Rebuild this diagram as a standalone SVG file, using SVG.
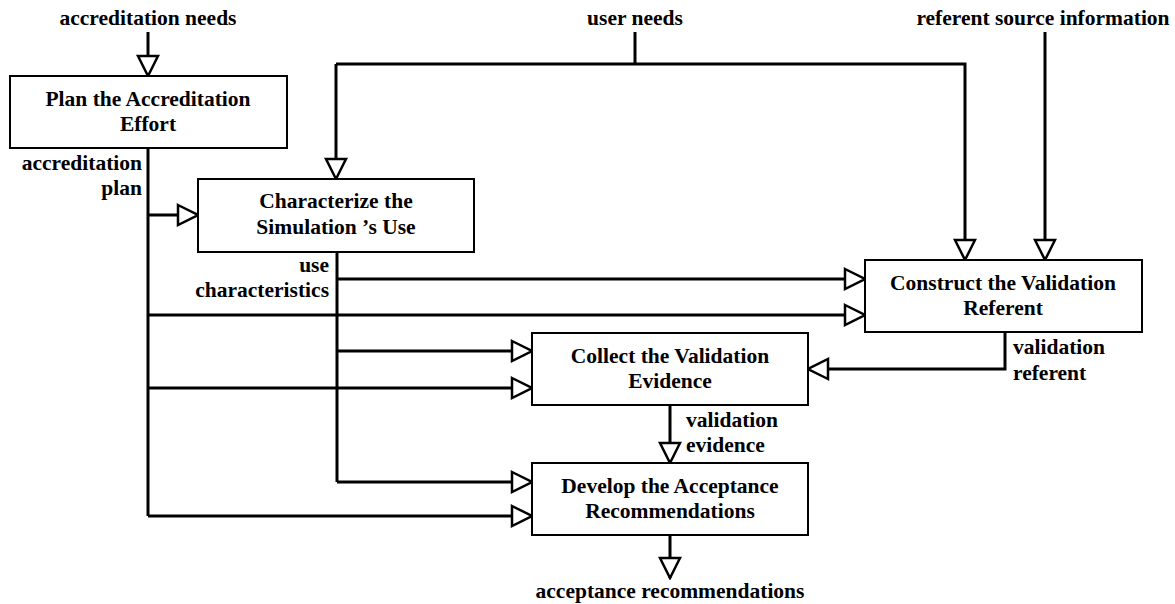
<svg xmlns="http://www.w3.org/2000/svg" width="1175" height="604" viewBox="0 0 1175 604">
<style>
.box{fill:#fff;stroke:#000;stroke-width:2}
text{font-family:'Liberation Serif','DejaVu Serif','Times New Roman',serif;font-weight:bold;font-size:21.5px;fill:#000}
.m{text-anchor:middle}
.e{text-anchor:end}
.c{fill:none;stroke:#000;stroke-width:3;stroke-linejoin:miter}
.a{marker-end:url(#ah)}
</style>
<defs>
<marker id="ah" viewBox="0 0 24 24" refX="22" refY="12" markerWidth="24" markerHeight="24" markerUnits="userSpaceOnUse" orient="auto">
<path d="M2,2 L22,12 L2,22 Z" fill="#fff" stroke="#000" stroke-width="2.5"/>
</marker>
</defs>
<rect width="1175" height="604" fill="#fff"/>
<g id="connectors">
<path class="c a" d="M148,32 V76"/>
<path class="c" d="M635,32 V64"/>
<path class="c a" d="M336,64 V179"/>
<path class="c a" d="M336,64 H965 V260"/>
<path class="c a" d="M1045,32 V260"/>
<path class="c" d="M148,148 V516"/>
<path class="c a" d="M148,215 H198"/>
<path class="c a" d="M148,315 H865"/>
<path class="c a" d="M148,388 H532"/>
<path class="c a" d="M148,516 H532"/>
<path class="c" d="M337,252 V482"/>
<path class="c a" d="M337,279 H865"/>
<path class="c a" d="M337,351 H532"/>
<path class="c a" d="M337,482 H532"/>
<path class="c a" d="M1005,332 V369 H808"/>
<path class="c a" d="M670,405 V463"/>
<path class="c a" d="M670,535 V578"/>
<text class="m" x="148" y="25">accreditation needs</text>
<text class="m" x="635" y="25">user needs</text>
<text class="m" x="1043" y="25">referent source information</text>
<text class="e" x="142" y="170">accreditation</text>
<text class="e" x="142" y="195">plan</text>
<text class="e" x="329" y="272">use</text>
<text class="e" x="329" y="297">characteristics</text>
<text x="1013" y="354">validation</text>
<text x="1013" y="380">referent</text>
<text x="686" y="427">validation</text>
<text x="686" y="452">evidence</text>
<text class="m" x="670" y="598">acceptance recommendations</text>
</g>
<g id="plan">
<rect class="box" x="10" y="76" width="277" height="72"/>
<text class="m" x="148" y="106">Plan the Accreditation</text>
<text class="m" x="148" y="131">Effort</text>
</g>
<g id="characterize">
<rect class="box" x="198" y="179" width="276" height="73"/>
<text class="m" x="336" y="208">Characterize the</text>
<text class="m" x="336" y="234">Simulation ’s Use</text>
</g>
<g id="construct">
<rect class="box" x="865" y="260" width="277" height="72"/>
<text class="m" x="1003" y="290">Construct the Validation</text>
<text class="m" x="1003" y="315">Referent</text>
</g>
<g id="collect">
<rect class="box" x="532" y="333" width="276" height="72"/>
<text class="m" x="670" y="363">Collect the Validation</text>
<text class="m" x="670" y="388">Evidence</text>
</g>
<g id="develop">
<rect class="box" x="532" y="463" width="276" height="72"/>
<text class="m" x="670" y="493">Develop the Acceptance</text>
<text class="m" x="670" y="518">Recommendations</text>
</g>
</svg>
